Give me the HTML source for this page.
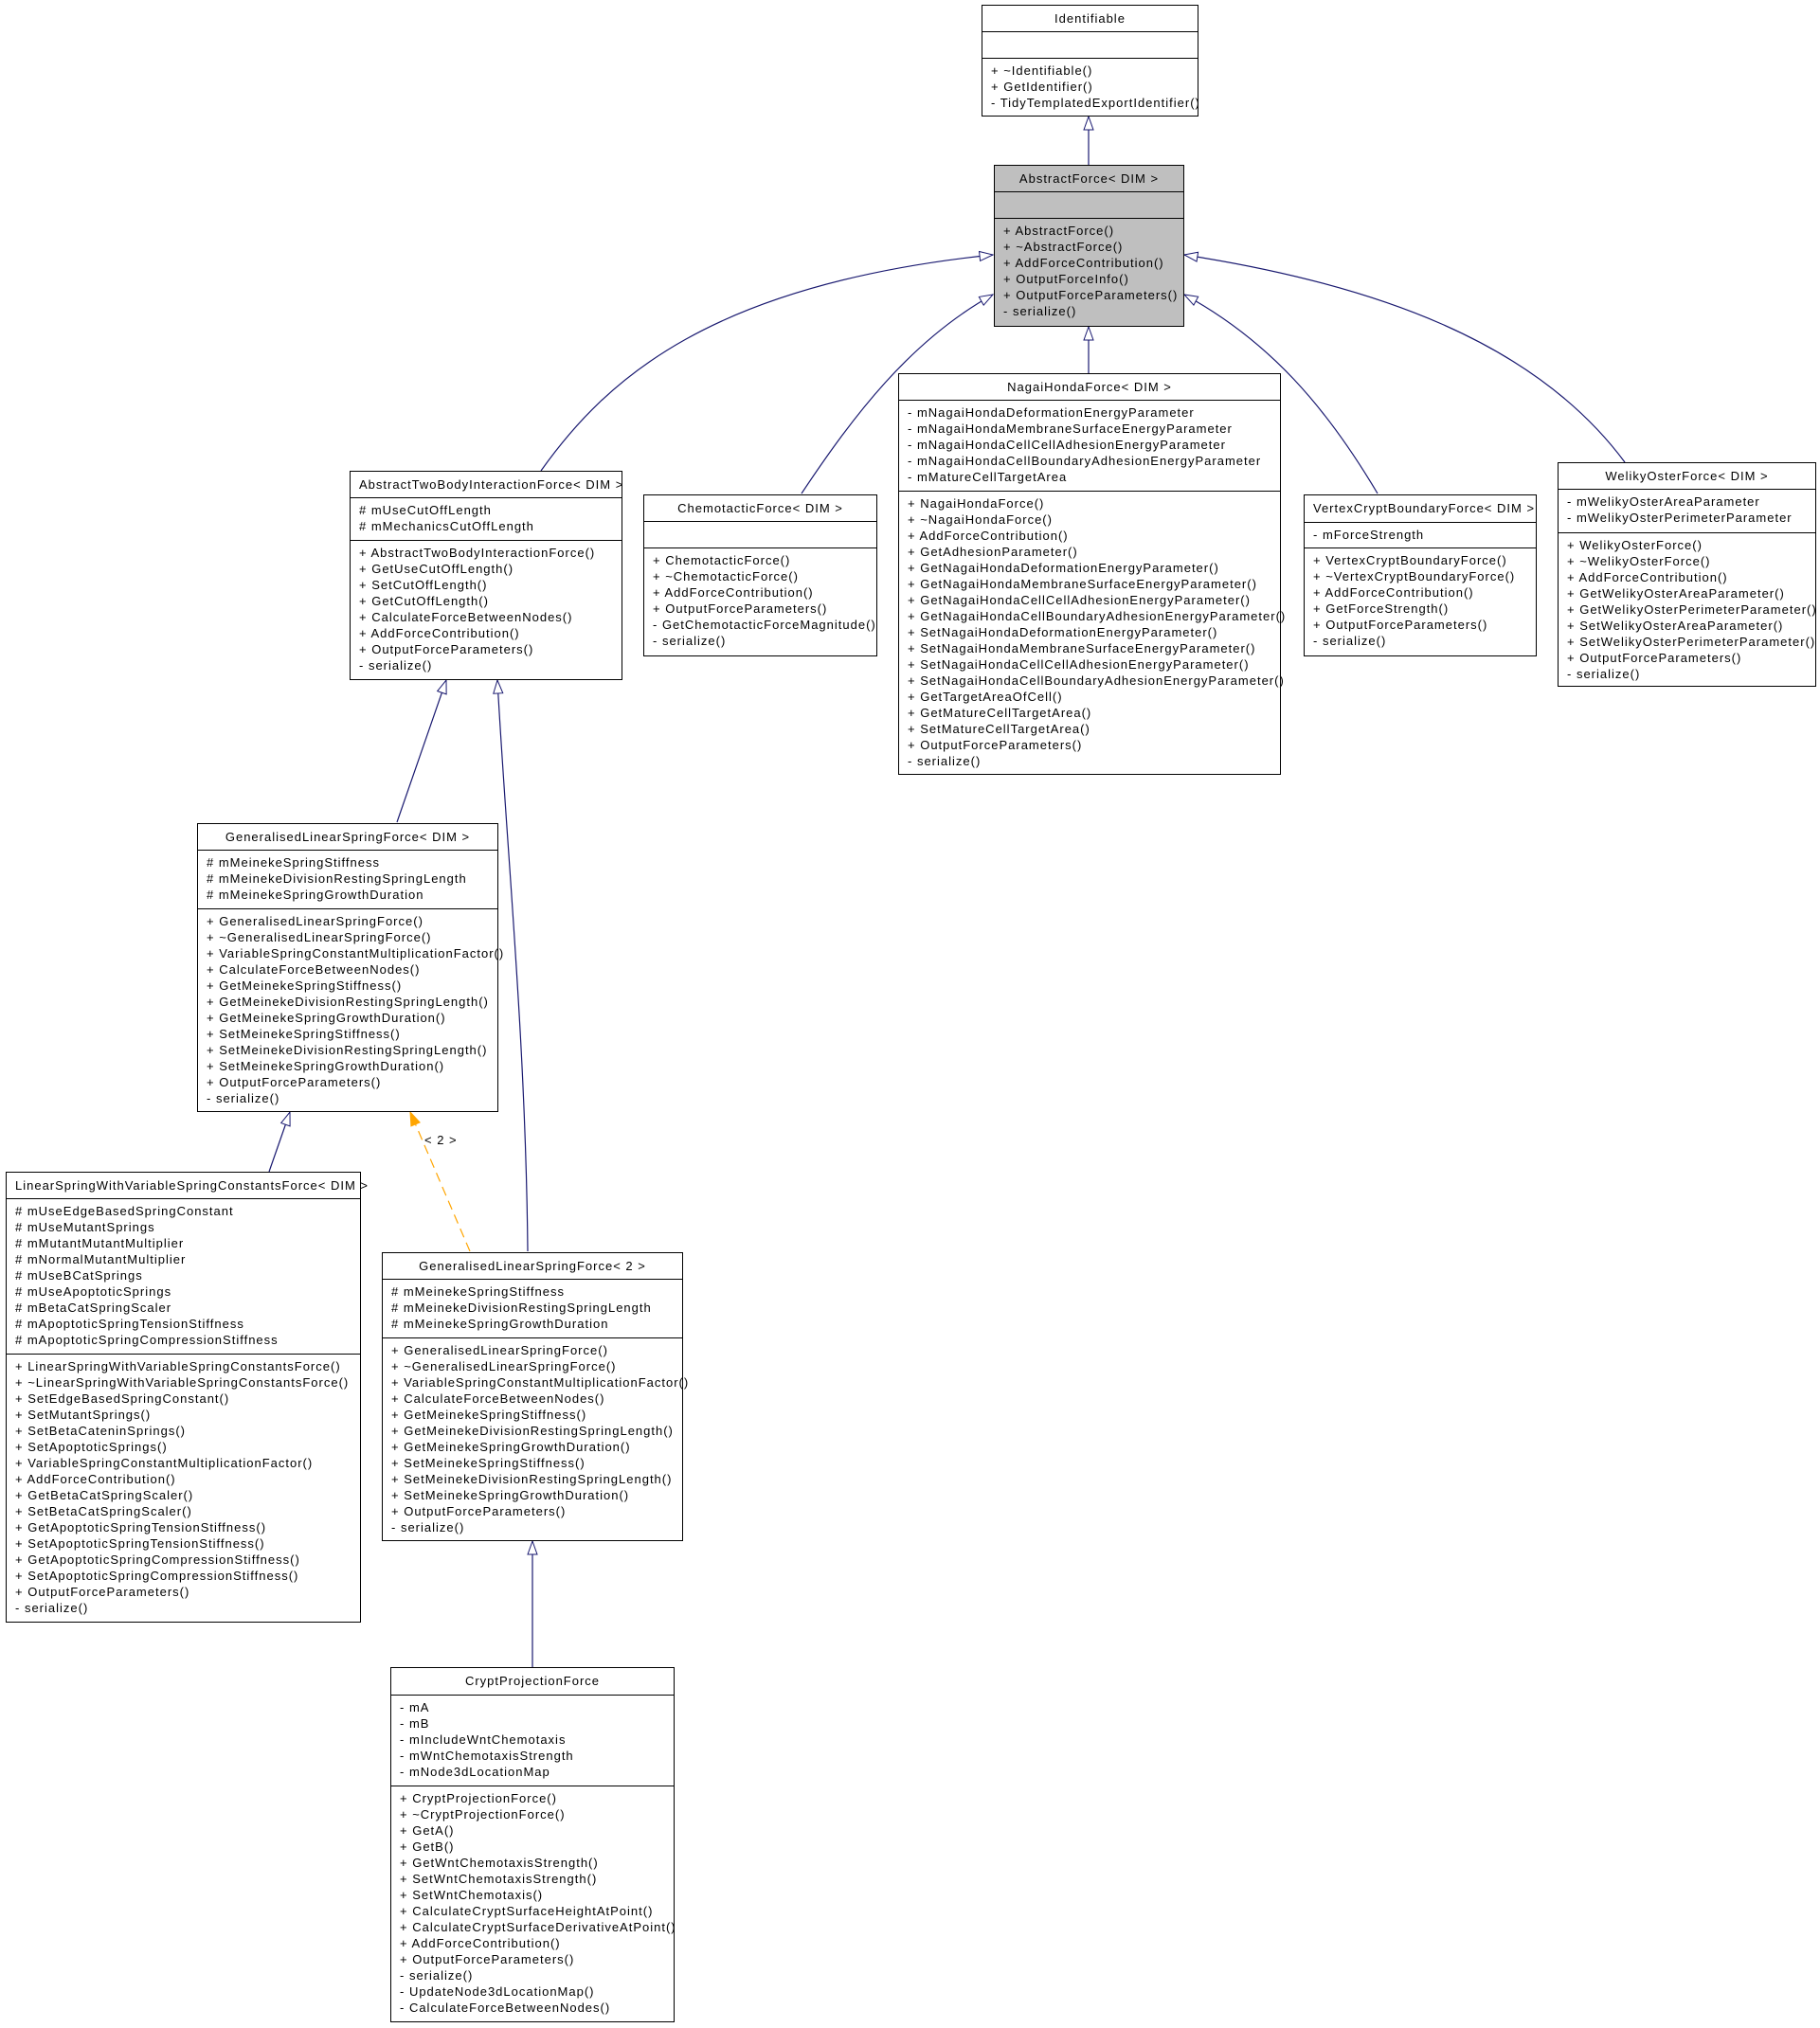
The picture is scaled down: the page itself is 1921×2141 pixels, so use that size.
<!DOCTYPE html>
<html><head><meta charset="utf-8">
<style>
html,body{margin:0;padding:0;background:#fff;}
body{width:1921px;height:2141px;position:relative;overflow:hidden;font-family:"Liberation Sans",sans-serif;font-size:13px;letter-spacing:1px;color:#000;}
.b{position:absolute;border:1px solid #000;background:#fff;box-sizing:border-box;}
.h{position:absolute;left:0;right:0;text-align:center;line-height:28px;white-space:nowrap;}
.s{position:absolute;left:0;right:0;border-top:1px solid #000;padding:4px 0 0 9px;line-height:17px;white-space:pre;}
svg{position:absolute;left:0;top:0;}
</style></head><body>
<svg width="1921" height="2141">
<defs>
<marker id="a" markerWidth="16" markerHeight="12" refX="15" refY="6" orient="auto" markerUnits="userSpaceOnUse"><path d="M1,1 L15,6 L1,11 Z" fill="#fff" stroke="#191970" stroke-width="1"/></marker>
<marker id="o" markerWidth="16" markerHeight="12" refX="15" refY="6" orient="auto" markerUnits="userSpaceOnUse"><path d="M1,1 L15,6 L1,11 Z" fill="#ffa500" stroke="#ffa500"/></marker>
</defs>
<g fill="none" stroke="#191970" stroke-width="1.2">
<path d="M1149,174 L1149,123" marker-end="url(#a)"/>
<path d="M571,497 C640,400 750,300 1048,269" marker-end="url(#a)"/>
<path d="M846,521 C900,440 960,360 1048,311" marker-end="url(#a)"/>
<path d="M1149,394 L1149,345" marker-end="url(#a)"/>
<path d="M1454,521 C1400,430 1340,360 1250,311" marker-end="url(#a)"/>
<path d="M1715,488 C1620,360 1450,300 1250,269" marker-end="url(#a)"/>
<path d="M419,868 L471,718" marker-end="url(#a)"/>
<path d="M557,1321 C555,1100 535,900 525,718" marker-end="url(#a)"/>
<path d="M284,1237 L306,1174" marker-end="url(#a)"/>
<path d="M562,1760 L562,1627" marker-end="url(#a)"/>
</g>
<path d="M496,1321 L433,1174" fill="none" stroke="#ffa500" stroke-width="1.2" stroke-dasharray="10,6" marker-end="url(#o)"/>
<text x="448" y="1208" font-family="Liberation Sans, sans-serif" font-size="13" letter-spacing="1">&lt; 2 &gt;</text>
</svg>

<div class="b" style="left:1036px;top:5px;width:229px;height:118px;">
<div class="h" style="top:0">Identifiable</div>
<div class="s" style="top:27px;height:28px;"></div>
<div class="s" style="top:55px;">+ ~Identifiable()
+ GetIdentifier()
- TidyTemplatedExportIdentifier()</div>
</div>

<div class="b" style="left:1049px;top:174px;width:201px;height:171px;background:#bfbfbf;">
<div class="h" style="top:0">AbstractForce&lt; DIM &gt;</div>
<div class="s" style="top:27px;height:28px;"></div>
<div class="s" style="top:55px;">+ AbstractForce()
+ ~AbstractForce()
+ AddForceContribution()
+ OutputForceInfo()
+ OutputForceParameters()
- serialize()</div>
</div>

<div class="b" style="left:369px;top:497px;width:288px;height:221px;">
<div class="h" style="top:0;text-align:left;padding-left:9px;">AbstractTwoBodyInteractionForce&lt; DIM &gt;</div>
<div class="s" style="top:27px;"># mUseCutOffLength
# mMechanicsCutOffLength</div>
<div class="s" style="top:72px;">+ AbstractTwoBodyInteractionForce()
+ GetUseCutOffLength()
+ SetCutOffLength()
+ GetCutOffLength()
+ CalculateForceBetweenNodes()
+ AddForceContribution()
+ OutputForceParameters()
- serialize()</div>
</div>

<div class="b" style="left:679px;top:522px;width:247px;height:171px;">
<div class="h" style="top:0">ChemotacticForce&lt; DIM &gt;</div>
<div class="s" style="top:27px;height:28px;"></div>
<div class="s" style="top:55px;">+ ChemotacticForce()
+ ~ChemotacticForce()
+ AddForceContribution()
+ OutputForceParameters()
- GetChemotacticForceMagnitude()
- serialize()</div>
</div>

<div class="b" style="left:948px;top:394px;width:404px;height:424px;">
<div class="h" style="top:0">NagaiHondaForce&lt; DIM &gt;</div>
<div class="s" style="top:27px;">- mNagaiHondaDeformationEnergyParameter
- mNagaiHondaMembraneSurfaceEnergyParameter
- mNagaiHondaCellCellAdhesionEnergyParameter
- mNagaiHondaCellBoundaryAdhesionEnergyParameter
- mMatureCellTargetArea</div>
<div class="s" style="top:123px;">+ NagaiHondaForce()
+ ~NagaiHondaForce()
+ AddForceContribution()
+ GetAdhesionParameter()
+ GetNagaiHondaDeformationEnergyParameter()
+ GetNagaiHondaMembraneSurfaceEnergyParameter()
+ GetNagaiHondaCellCellAdhesionEnergyParameter()
+ GetNagaiHondaCellBoundaryAdhesionEnergyParameter()
+ SetNagaiHondaDeformationEnergyParameter()
+ SetNagaiHondaMembraneSurfaceEnergyParameter()
+ SetNagaiHondaCellCellAdhesionEnergyParameter()
+ SetNagaiHondaCellBoundaryAdhesionEnergyParameter()
+ GetTargetAreaOfCell()
+ GetMatureCellTargetArea()
+ SetMatureCellTargetArea()
+ OutputForceParameters()
- serialize()</div>
</div>

<div class="b" style="left:1376px;top:522px;width:246px;height:171px;">
<div class="h" style="top:0;text-align:left;padding-left:9px;">VertexCryptBoundaryForce&lt; DIM &gt;</div>
<div class="s" style="top:28px;">- mForceStrength</div>
<div class="s" style="top:55px;">+ VertexCryptBoundaryForce()
+ ~VertexCryptBoundaryForce()
+ AddForceContribution()
+ GetForceStrength()
+ OutputForceParameters()
- serialize()</div>
</div>

<div class="b" style="left:1644px;top:488px;width:273px;height:237px;">
<div class="h" style="top:0">WelikyOsterForce&lt; DIM &gt;</div>
<div class="s" style="top:27px;">- mWelikyOsterAreaParameter
- mWelikyOsterPerimeterParameter</div>
<div class="s" style="top:73px;">+ WelikyOsterForce()
+ ~WelikyOsterForce()
+ AddForceContribution()
+ GetWelikyOsterAreaParameter()
+ GetWelikyOsterPerimeterParameter()
+ SetWelikyOsterAreaParameter()
+ SetWelikyOsterPerimeterParameter()
+ OutputForceParameters()
- serialize()</div>
</div>

<div class="b" style="left:208px;top:869px;width:318px;height:305px;">
<div class="h" style="top:0">GeneralisedLinearSpringForce&lt; DIM &gt;</div>
<div class="s" style="top:27px;"># mMeinekeSpringStiffness
# mMeinekeDivisionRestingSpringLength
# mMeinekeSpringGrowthDuration</div>
<div class="s" style="top:89px;">+ GeneralisedLinearSpringForce()
+ ~GeneralisedLinearSpringForce()
+ VariableSpringConstantMultiplicationFactor()
+ CalculateForceBetweenNodes()
+ GetMeinekeSpringStiffness()
+ GetMeinekeDivisionRestingSpringLength()
+ GetMeinekeSpringGrowthDuration()
+ SetMeinekeSpringStiffness()
+ SetMeinekeDivisionRestingSpringLength()
+ SetMeinekeSpringGrowthDuration()
+ OutputForceParameters()
- serialize()</div>
</div>

<div class="b" style="left:6px;top:1237px;width:375px;height:476px;">
<div class="h" style="top:0;text-align:left;padding-left:9px;">LinearSpringWithVariableSpringConstantsForce&lt; DIM &gt;</div>
<div class="s" style="top:27px;"># mUseEdgeBasedSpringConstant
# mUseMutantSprings
# mMutantMutantMultiplier
# mNormalMutantMultiplier
# mUseBCatSprings
# mUseApoptoticSprings
# mBetaCatSpringScaler
# mApoptoticSpringTensionStiffness
# mApoptoticSpringCompressionStiffness</div>
<div class="s" style="top:191px;">+ LinearSpringWithVariableSpringConstantsForce()
+ ~LinearSpringWithVariableSpringConstantsForce()
+ SetEdgeBasedSpringConstant()
+ SetMutantSprings()
+ SetBetaCateninSprings()
+ SetApoptoticSprings()
+ VariableSpringConstantMultiplicationFactor()
+ AddForceContribution()
+ GetBetaCatSpringScaler()
+ SetBetaCatSpringScaler()
+ GetApoptoticSpringTensionStiffness()
+ SetApoptoticSpringTensionStiffness()
+ GetApoptoticSpringCompressionStiffness()
+ SetApoptoticSpringCompressionStiffness()
+ OutputForceParameters()
- serialize()</div>
</div>

<div class="b" style="left:403px;top:1322px;width:318px;height:305px;">
<div class="h" style="top:0">GeneralisedLinearSpringForce&lt; 2 &gt;</div>
<div class="s" style="top:27px;"># mMeinekeSpringStiffness
# mMeinekeDivisionRestingSpringLength
# mMeinekeSpringGrowthDuration</div>
<div class="s" style="top:89px;">+ GeneralisedLinearSpringForce()
+ ~GeneralisedLinearSpringForce()
+ VariableSpringConstantMultiplicationFactor()
+ CalculateForceBetweenNodes()
+ GetMeinekeSpringStiffness()
+ GetMeinekeDivisionRestingSpringLength()
+ GetMeinekeSpringGrowthDuration()
+ SetMeinekeSpringStiffness()
+ SetMeinekeDivisionRestingSpringLength()
+ SetMeinekeSpringGrowthDuration()
+ OutputForceParameters()
- serialize()</div>
</div>

<div class="b" style="left:412px;top:1760px;width:300px;height:375px;">
<div class="h" style="top:0">CryptProjectionForce</div>
<div class="s" style="top:28px;">- mA
- mB
- mIncludeWntChemotaxis
- mWntChemotaxisStrength
- mNode3dLocationMap</div>
<div class="s" style="top:124px;">+ CryptProjectionForce()
+ ~CryptProjectionForce()
+ GetA()
+ GetB()
+ GetWntChemotaxisStrength()
+ SetWntChemotaxisStrength()
+ SetWntChemotaxis()
+ CalculateCryptSurfaceHeightAtPoint()
+ CalculateCryptSurfaceDerivativeAtPoint()
+ AddForceContribution()
+ OutputForceParameters()
- serialize()
- UpdateNode3dLocationMap()
- CalculateForceBetweenNodes()</div>
</div>
</body></html>
